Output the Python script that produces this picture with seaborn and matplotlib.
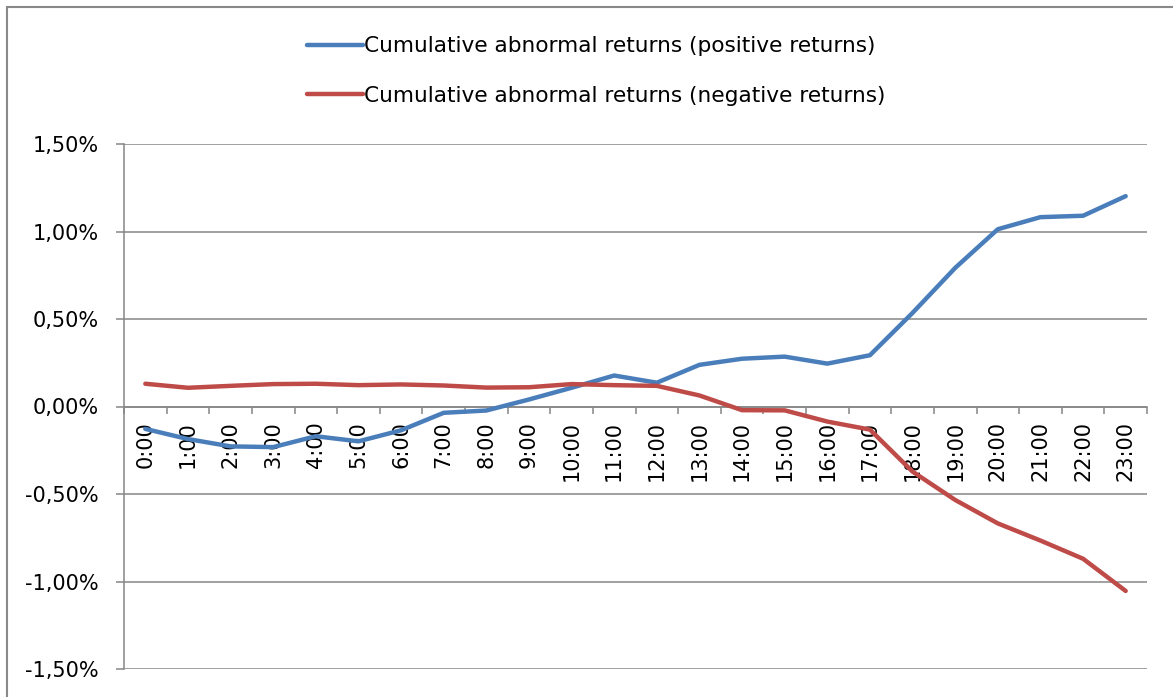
#!/usr/bin/env python3
"""Cumulative abnormal returns by hour, positive vs negative return days."""

import matplotlib

matplotlib.use("Agg")
import matplotlib.pyplot as plt
import numpy as np
import pandas as pd
import seaborn as sns
from matplotlib.patches import Rectangle
from matplotlib.ticker import FuncFormatter

sns.set_style("white")
plt.rcParams["font.family"] = ["DejaVu Sans"]
plt.rcParams["text.color"] = "black"
plt.rcParams["xtick.color"] = "black"
plt.rcParams["ytick.color"] = "black"

HOURS = [f"{h}:00" for h in range(24)]
POSITIVE = [
    -0.128, -0.186, -0.228, -0.232, -0.170, -0.199, -0.136, -0.036,
    -0.023, 0.040, 0.107, 0.177, 0.136, 0.238, 0.273, 0.285,
    0.245, 0.293, 0.535, 0.792, 1.013, 1.082, 1.090, 1.202,
]
NEGATIVE = [
    0.130, 0.107, 0.118, 0.128, 0.130, 0.122, 0.126, 0.120,
    0.108, 0.110, 0.128, 0.122, 0.118, 0.063, -0.021, -0.022,
    -0.086, -0.132, -0.372, -0.534, -0.668, -0.766, -0.870, -1.054,
]
SERIES = [
    "Cumulative abnormal returns (positive returns)",
    "Cumulative abnormal returns (negative returns)",
]
COLORS = ["#4A7EBB", "#BE4B48"]
GREY = "#868686"

df = pd.DataFrame(
    {
        "hour": list(range(24)) * 2,
        "car": POSITIVE + NEGATIVE,
        "series": [SERIES[0]] * 24 + [SERIES[1]] * 24,
    }
)

W, H = 1173, 697
fig = plt.figure(figsize=(W / 100, H / 100), dpi=100)
ax = fig.add_axes([124 / W, 1 - 669 / H, (1147 - 124) / W, (669 - 144) / H])

sns.lineplot(
    data=df,
    x="hour",
    y="car",
    hue="series",
    palette=COLORS,
    linewidth=3.2,
    solid_capstyle="round",
    ax=ax,
    zorder=3,
)

# category axis sits on the zero line, like the Excel original
for side in ["top", "right"]:
    ax.spines[side].set_visible(False)
ax.spines["bottom"].set_position(("data", 0))
for side in ["left", "bottom"]:
    ax.spines[side].set_color(GREY)
    ax.spines[side].set_linewidth(1.1)
    ax.spines[side].set_zorder(1)

ax.set_xlim(-0.5, 23.5)
ax.set_ylim(-1.5, 1.5)
ax.set_yticks(np.arange(-1.5, 1.51, 0.5))
ax.yaxis.set_major_formatter(FuncFormatter(lambda v, _: f"{v:.2f}%".replace(".", ",")))
ax.set_xlabel("")
ax.set_ylabel("")

ax.set_xticks(range(24))
ax.set_xticklabels(HOURS)
ax.set_xticks(np.arange(-0.5, 24, 1), minor=True)
ax.tick_params(axis="x", which="major", bottom=True, length=0, pad=10.5,
               labelsize=15, labelrotation=90)
ax.tick_params(axis="x", which="minor", bottom=True, length=5, width=1.1,
               color=GREY, direction="out")
ax.tick_params(axis="y", left=True, length=5.8, width=1.1, color=GREY,
               labelcolor="black", direction="out", pad=12.5, labelsize=15)
for lbl in ax.get_xticklabels():
    lbl.set_verticalalignment("top")
    lbl.set_horizontalalignment("center")

ax.grid(axis="y", color=GREY, linewidth=1.1)
ax.set_axisbelow(True)

handles, labels = ax.get_legend_handles_labels()
ax.get_legend().remove()
fig.legend(
    handles,
    labels,
    loc="center left",
    bbox_to_anchor=(307 / W, 1 - 71 / H),
    frameon=False,
    fontsize=15.6,
    handlelength=2.6,
    handletextpad=0.05,
    labelspacing=1.35,
    borderpad=0,
    borderaxespad=0,
)

fig.patches.append(
    Rectangle(
        (7 / W, -0.1), 1.2, 1 - 7 / H + 0.1,
        transform=fig.transFigure, fill=False, edgecolor="#898989", linewidth=1.5,
    )
)

fig.savefig("out.png", dpi=100)
